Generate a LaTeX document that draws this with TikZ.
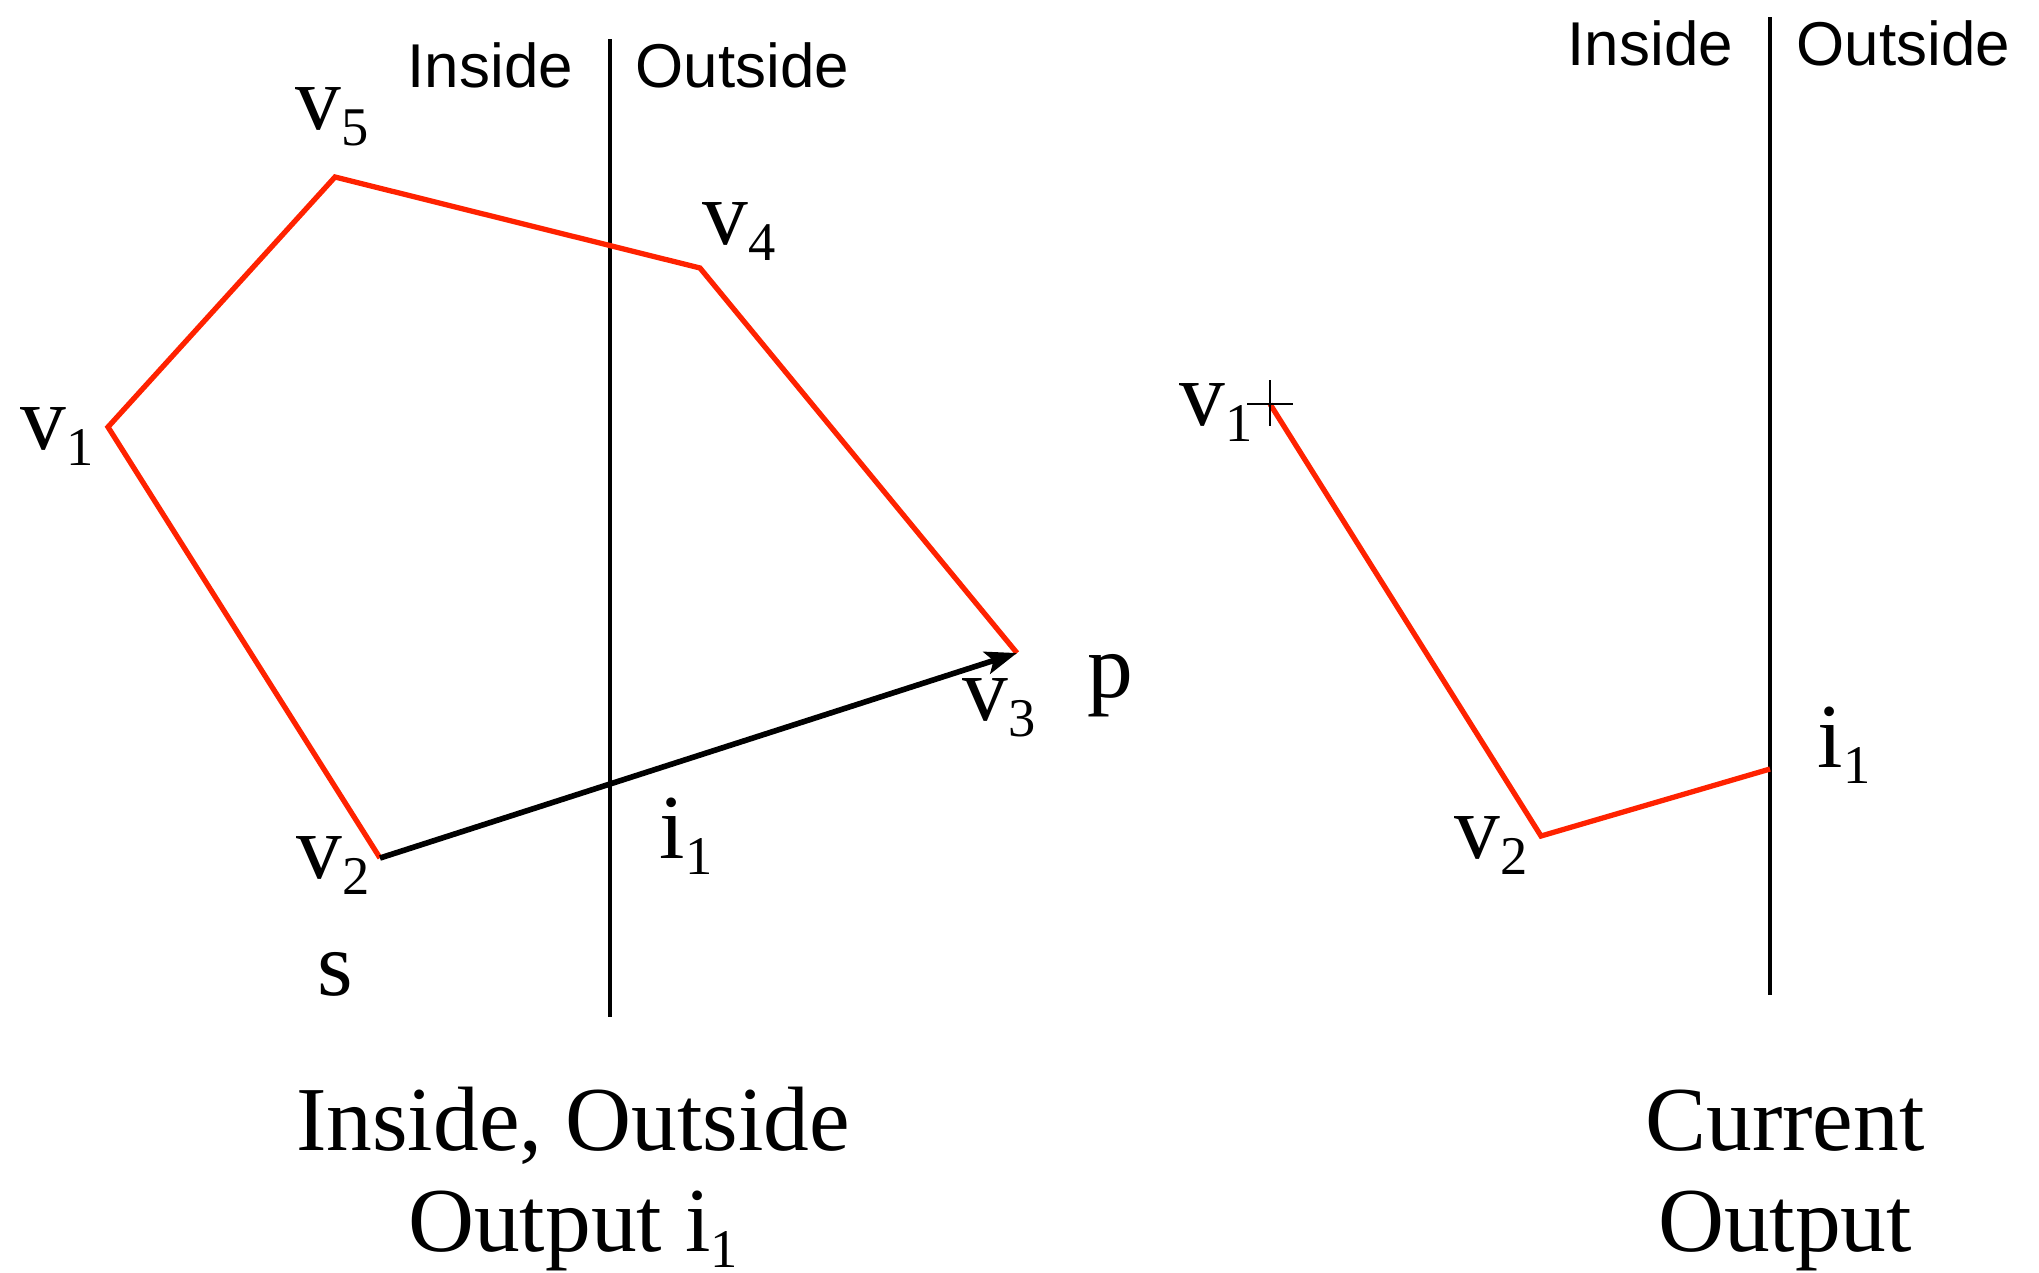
\documentclass[tikz,border=0pt]{standalone}
\usepackage{fontspec}
\setmainfont{Liberation Serif}
\setsansfont{Liberation Sans}
\usetikzlibrary{arrows.meta}
\definecolor{clipred}{RGB}{255,34,0}
\newcommand{\sublbl}[2]{#1\lower4.7pt\hbox{\fontsize{15.5}{15.5}\selectfont #2}}

\begin{document}
\begin{tikzpicture}[x=0.01cm, y=-0.01cm,
  lbl/.style={inner sep=0pt, anchor=base west, font=\fontsize{26}{28}\selectfont},
  side/.style={inner sep=0pt, anchor=base west, font=\sffamily\fontsize{17.6}{20}\selectfont},
  capt/.style={inner sep=0pt, anchor=base, align=center, font=\fontsize{26}{28.45}\selectfont},
  edge/.style={draw=clipred, line width=1.5pt, line join=miter},
  clipline/.style={draw, line width=1.4pt},
  sweep/.style={-{Stealth[length=9pt, width=6.5pt, inset=2pt]}, line width=1.6pt}]
\useasboundingbox (0,0) rectangle (2039,1272);
% left: polygon against the clip boundary
\coordinate (v1) at (108,427); \coordinate (v2) at (380,858); \coordinate (v3) at (1017,653);
\coordinate (v4) at (700,268); \coordinate (v5) at (335,177);
\coordinate (ltop) at (610,39); \coordinate (lbot) at (610,1017);
\draw[clipline] (ltop) -- (lbot);
\draw[edge] (v3) -- (v4) -- (v5) -- (v1) -- (v2);
\draw[sweep] (v2) -- (v3);
\node[side] (lin) at (407,87) {Inside}; \node[side] (lout) at (635,87) {Outside};
\node[lbl] (lv5) at (295,129) {\sublbl{v}{5}}; \node[lbl] (lv4) at (702,244) {\sublbl{v}{4}};
\node[lbl] (lv1) at (20,449) {\sublbl{v}{1}}; \node[lbl] (lv2) at (296,878) {\sublbl{v}{2}};
\node[lbl] (lv3) at (962,720) {\sublbl{v}{3}}; \node[lbl] (lp) at (1087,697) {p};
\node[lbl] (li1) at (659,858) {\sublbl{i}{1}}; \node[lbl] (ls) at (317,995) {s};
\node[capt] (lcap) at (573,1251) {Inside, Outside\\Output \sublbl{i}{1}};
% right: output so far
\coordinate (w1) at (1270,404); \coordinate (w2) at (1541,836); \coordinate (wi1) at (1770,769);
\coordinate (rtop) at (1770,17); \coordinate (rbot) at (1770,995);
\draw[clipline] (rtop) -- (rbot);
\draw[edge] (w1) -- (w2) -- (wi1);
\draw[line width=0.6pt] (w1) +(-23,0) -- +(23,0) (w1) +(0,-24) -- +(0,22);
\node[side] (rin) at (1567,65) {Inside}; \node[side] (rout) at (1796,65) {Outside};
\node[lbl] (rv1) at (1179,425) {\sublbl{v}{1}}; \node[lbl] (rv2) at (1454,858) {\sublbl{v}{2}};
\node[lbl] (ri1) at (1817,767) {\sublbl{i}{1}};
\node[capt] (rcap) at (1785,1251) {Current\\Output};
\end{tikzpicture}
\end{document}
